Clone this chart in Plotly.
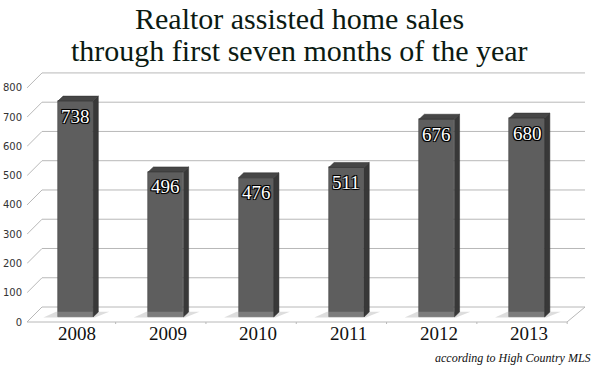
import plotly.graph_objects as go

# ---- data ----
years = ["2008", "2009", "2010", "2011", "2012", "2013"]
sales = [738, 496, 476, 511, 676, 680]
y_ticks = [0, 100, 200, 300, 400, 500, 600, 700, 800]
title_lines = ["Realtor assisted home sales", "through first seven months of the year"]
source_note = "according to High Country MLS"

# ---- style constants ----
W, H = 599, 368
ML, MR, MT, MB = 27, 14, 70, 44
X_RANGE = [-0.537, 5.642]
Y_RANGE = [-23.9, 844.2]
BAR_W = 0.39
DX = 0.058   # depth of 3D side (category units)
DY = 17.0    # depth of 3D top (value units)
FRONT = "#5e5e5e"
SIDE = "#383838"
TOP = "#464646"
GRID = "#b8b8b8"
SERIF = "Liberation Serif, Times New Roman, serif"
PH = H - MT - MB

xs = list(range(len(years)))
fig = go.Figure()

# floor shadows
for i, v in enumerate(sales):
    l, r = i - BAR_W / 2, i + BAR_W / 2
    fig.add_trace(go.Scatter(
        x=[l - 0.16, l - 0.02, r + DX + 0.12, r + 0.02, l - 0.16],
        y=[-2, 18, 18, -2, -2], fill="toself", mode="lines",
        line=dict(width=0), fillcolor="rgba(170,170,170,0.40)",
        hoverinfo="skip", showlegend=False))

# front faces
fig.add_trace(go.Bar(x=xs, y=sales, width=BAR_W,
                     marker=dict(color=FRONT, line=dict(color="#444444", width=0.6)),
                     showlegend=False, hoverinfo="skip"))

# side and top faces
for i, v in enumerate(sales):
    l, r = i - BAR_W / 2, i + BAR_W / 2
    fig.add_trace(go.Scatter(
        x=[r, r + DX, r + DX, r, r], y=[0, DY, v + DY, v, 0],
        fill="toself", mode="lines", line=dict(width=0.5, color="#2e2e2e"),
        fillcolor=SIDE, hoverinfo="skip", showlegend=False))
    fig.add_trace(go.Scatter(
        x=[l, l + DX, r + DX, r, l], y=[v, v + DY, v + DY, v, v],
        fill="toself", mode="lines", line=dict(width=0.5, color="#2e2e2e"),
        fillcolor=TOP, hoverinfo="skip", showlegend=False))

# 3D walls / gridlines
shapes = []
XL = X_RANGE[0]
common = dict(type="line", xref="x", yref="y", xsizemode="pixel", ysizemode="pixel",
              line=dict(color=GRID, width=1), layer="below")
for v in y_ticks:
    shapes.append(dict(common, xanchor=XL, x0=0, x1=15, yanchor=v, y0=-5, y1=10))
    shapes.append(dict(common, xanchor=XL, x0=15, x1=558, yanchor=v, y0=10, y1=10))
shapes.append(dict(common, xanchor=XL, x0=0, x1=540, yanchor=0, y0=-5, y1=-5))
shapes.append(dict(common, xanchor=XL, x0=540, x1=558, yanchor=0, y0=-5, y1=10))
for k in range(len(years) + 1):
    shapes.append(dict(common, xanchor=k - 0.5, x0=-5, x1=-5, yanchor=0, y0=-5, y1=-11))

annotations = [
    dict(text=title_lines[0], xref="paper", yref="paper", x=0.488, y=(H - MB - 19) / PH,
         xanchor="center", yanchor="middle", showarrow=False,
         font=dict(family=SERIF, size=30, color="#0b1a12")),
    dict(text=title_lines[1], xref="paper", yref="paper", x=0.488, y=(H - MB - 51) / PH,
         xanchor="center", yanchor="middle", showarrow=False,
         font=dict(family=SERIF, size=30, color="#0b1a12")),
    dict(text="<i>" + source_note + "</i>", xref="paper", yref="paper",
         x=(593 - ML) / (W - ML - MR), y=(H - MB - 358) / PH,
         xanchor="right", yanchor="middle", showarrow=False,
         font=dict(family=SERIF, size=12, color="#111111")),
]
# category labels
for i, yr in enumerate(years):
    annotations.append(dict(text=yr, xref="x", yref="paper", x=i, xshift=2,
                            y=(H - MB - 333) / PH, xanchor="center", yanchor="middle",
                            showarrow=False,
                            font=dict(family=SERIF, size=19, color="#111111")))
# value labels inside bar tops
outline = "1px 1px 0 #000, -1px -1px 0 #000, 1px -1px 0 #000, -1px 1px 0 #000, 0 0 2px #000"
for i, v in enumerate(sales):
    annotations.append(dict(text=str(v), xref="x", yref="y", x=i, y=v, yshift=-15,
                            xanchor="center", yanchor="middle", showarrow=False,
                            font=dict(family=SERIF, size=19, color="white", shadow=outline)))

fig.update_layout(
    width=W, height=H, autosize=False,
    margin=dict(l=ML, r=MR, t=MT, b=MB, pad=0),
    plot_bgcolor="white", paper_bgcolor="white",
    shapes=shapes, annotations=annotations,
    xaxis=dict(range=X_RANGE, tickvals=xs, showticklabels=False, showgrid=False,
               zeroline=False, showline=False, ticks="", ticklen=0, automargin=False,
               fixedrange=True),
    yaxis=dict(range=Y_RANGE, tickvals=y_ticks, showgrid=False, zeroline=False,
               showline=False, ticks="", ticklen=0, ticklabelshift=5, ticklabelstandoff=4,
               automargin=False,
               tickfont=dict(family="DejaVu Sans, Verdana, sans-serif", size=10, color="#333333"),
               fixedrange=True),
    bargap=0,
)

fig.write_html("out.html", config={"displayModeBar": False},
               post_script="document.body.style.margin='0';document.body.style.overflow='hidden';")
